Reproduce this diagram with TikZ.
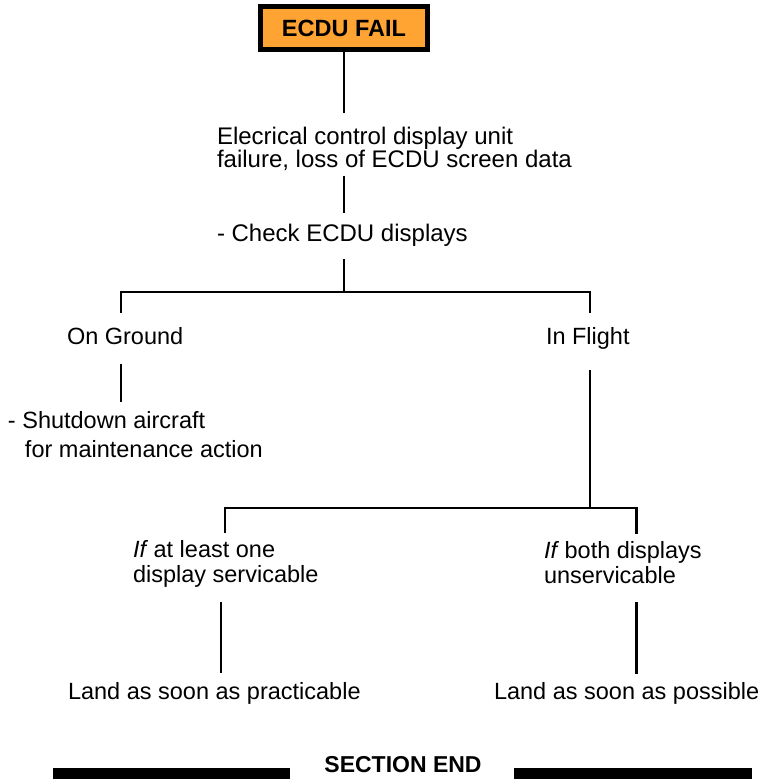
\documentclass[tikz,border=0pt]{standalone}
\usepackage{fontspec}
\setmainfont{Liberation Sans}
\usetikzlibrary{calc}
\definecolor{failorange}{RGB}{255,163,51}
% two stacked lines whose baseline is that of the first line
\newcommand\linepair[2]{\vtop{\hbox{#1}\hbox{#2}}}

\begin{document}
\begin{tikzpicture}[x=1pt,y=-1pt,
  link/.style={line width=2.2pt},
  txt/.style={inner sep=0pt, outer sep=0pt, anchor=base west,
              font=\fontsize{23.5}{25}\selectfont},
  failbox/.style={draw=black, line width=5pt, fill=failorange,
                  minimum width=167pt, minimum height=43pt, inner sep=0pt,
                  font=\fontsize{23.5}{28}\selectfont\bfseries},
  endbar/.style={fill=black}]
\useasboundingbox (0,0) rectangle (764,779);

% --- nodes ---
\node[failbox] (fail) at (344,28) {ECDU FAIL};
\node[txt, font=\fontsize{24}{23}\selectfont] (desc) at (217,144)
  {\linepair{Elecrical control display unit}{failure, loss of ECDU screen data}};
\node[txt, font=\fontsize{24}{23}\selectfont] (check) at (217,241) {- Check ECDU displays};
\node[txt] (ground) at (67,344) {On Ground};
\node[txt] (flight) at (546,344) {In Flight};
\node[txt, font=\fontsize{23.5}{29}\selectfont] (shut) at (8,428)
  {\linepair{- Shutdown aircraft}{\hspace*{17pt}for maintenance action}};
\node[txt] (one) at (133,557) {\linepair{\textit{If}\kern-1pt{} at least one}{display servicable}};
\node[txt] (both) at (544,558) {\linepair{\textit{If}\kern-1pt{} both displays}{unservicable}};
\node[txt] (asap1) at (68,699) {Land as soon as practicable};
\node[txt] (asap2) at (494,699) {Land as soon as possible};
\node[inner sep=0pt, anchor=base, font=\fontsize{23}{27}\selectfont\bfseries]
  (secend) at (403,772) {SECTION END};

% --- junctions of the two forks ---
\coordinate (j1) at (344,292);
\coordinate (j2) at (590,508);

% --- connectors ---
\draw[link, shorten >=14pt] (fail.south) -- (fail.south |- desc.north);
\draw[link, shorten <=5.5pt, shorten >=10.5pt] (fail.south |- desc.south) -- (fail.south |- check.north);
\draw[link, shorten <=13pt] (fail.south |- check.south) -- (j1);

\coordinate (g1) at ($(ground.north)+(-4,-14)$);
\coordinate (f1) at ($(flight.north)+(2.5,-14)$);
\draw[link] (g1) |- (j1) -| (f1);

\coordinate (g2) at ($(ground.south)+(-4,20)$);
\draw[link, shorten >=9pt] (g2) -- (g2 |- shut.north);

\coordinate (f2) at ($(flight.south)+(2.5,21)$);
\draw[link] (f2) -- (f2 |- j2);

\coordinate (o1) at ($(one.north)+(-0.5,-7)$);
\coordinate (b1) at ($(both.north)+(13.5,-7)$);
\draw[link] (o1) |- (j2) -| (b1);

\coordinate (o2) at ($(one.south)+(-4.5,15)$);
\draw[link, shorten >=9pt] (o2) -- (o2 |- asap1.north);
\coordinate (b2) at ($(both.south)+(13.5,19)$);
\draw[link, shorten >=8pt] (b2) -- (b2 |- asap2.north);

% --- section end rule ---
\fill[endbar] (53,768) rectangle (290,779);
\fill[endbar] (514,768) rectangle (752,779);
\end{tikzpicture}
\end{document}
